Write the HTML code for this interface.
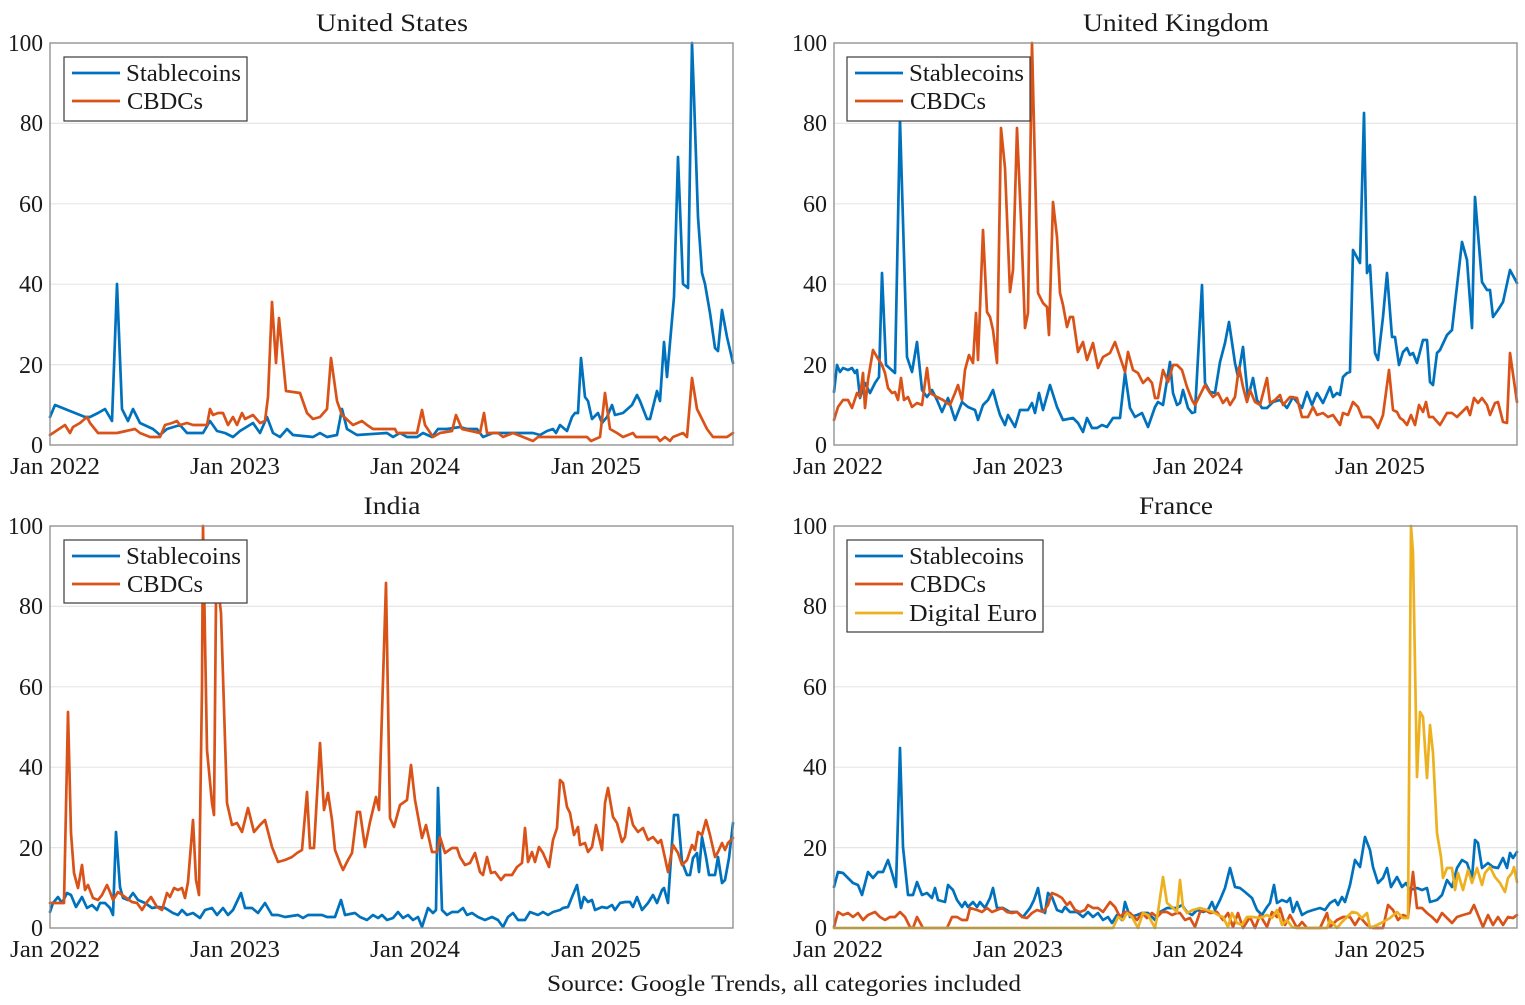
<!DOCTYPE html>
<html><head><meta charset="utf-8"><style>
html,body{margin:0;padding:0;background:#fff;}
svg{display:block;}
text{font-family:"Liberation Serif",serif;fill:#1a1a1a;}
.t{font-size:25px;}
.tk{font-size:24px;}
.lg{font-size:24px;}
.grid{stroke:#e6e6e6;stroke-width:1.2;}
.frame{fill:none;stroke:#8a8a8a;stroke-width:1.3;}
.s{fill:none;stroke-width:2.7;stroke-linejoin:round;stroke-linecap:round;}
.b{stroke:#0072BD;}
.o{stroke:#D95319;}
.y{stroke:#EDB120;}
.leg{fill:#fff;stroke:#3a3a3a;stroke-width:1.2;}
</style></head><body>
<svg width="1525" height="1005" viewBox="0 0 1525 1005" xmlns="http://www.w3.org/2000/svg">
<rect width="1525" height="1005" fill="#fff"/>

<!-- Titles -->
<text class="t" x="392" y="31" text-anchor="middle" textLength="152" lengthAdjust="spacingAndGlyphs">United States</text>
<text class="t" x="1176" y="31" text-anchor="middle" textLength="186" lengthAdjust="spacingAndGlyphs">United Kingdom</text>
<text class="t" x="392" y="514" text-anchor="middle" textLength="57" lengthAdjust="spacingAndGlyphs">India</text>
<text class="t" x="1176" y="514" text-anchor="middle" textLength="74" lengthAdjust="spacingAndGlyphs">France</text>

<!-- Grids -->
<g class="grid">
<line x1="50" x2="733" y1="123.4" y2="123.4"/><line x1="50" x2="733" y1="203.8" y2="203.8"/><line x1="50" x2="733" y1="284.2" y2="284.2"/><line x1="50" x2="733" y1="364.6" y2="364.6"/>
<line x1="834" x2="1517" y1="123.4" y2="123.4"/><line x1="834" x2="1517" y1="203.8" y2="203.8"/><line x1="834" x2="1517" y1="284.2" y2="284.2"/><line x1="834" x2="1517" y1="364.6" y2="364.6"/>
<line x1="50" x2="733" y1="606.4" y2="606.4"/><line x1="50" x2="733" y1="686.8" y2="686.8"/><line x1="50" x2="733" y1="767.2" y2="767.2"/><line x1="50" x2="733" y1="847.6" y2="847.6"/>
<line x1="834" x2="1517" y1="606.4" y2="606.4"/><line x1="834" x2="1517" y1="686.8" y2="686.8"/><line x1="834" x2="1517" y1="767.2" y2="767.2"/><line x1="834" x2="1517" y1="847.6" y2="847.6"/>
</g>

<!-- Y tick labels -->
<g class="tk" text-anchor="end">
<text x="43" y="51" textLength="35" lengthAdjust="spacingAndGlyphs">100</text>
<text x="43" y="131" textLength="23" lengthAdjust="spacingAndGlyphs">80</text>
<text x="43" y="212">60</text>
<text x="43" y="292">40</text>
<text x="43" y="373">20</text>
<text x="43" y="453">0</text>
<text x="827" y="51" textLength="35" lengthAdjust="spacingAndGlyphs">100</text>
<text x="827" y="131">80</text>
<text x="827" y="212">60</text>
<text x="827" y="292">40</text>
<text x="827" y="373">20</text>
<text x="827" y="453">0</text>
<text x="43" y="534" textLength="35" lengthAdjust="spacingAndGlyphs">100</text>
<text x="43" y="614">80</text>
<text x="43" y="695">60</text>
<text x="43" y="775">40</text>
<text x="43" y="856">20</text>
<text x="43" y="936">0</text>
<text x="827" y="534" textLength="35" lengthAdjust="spacingAndGlyphs">100</text>
<text x="827" y="614">80</text>
<text x="827" y="695">60</text>
<text x="827" y="775">40</text>
<text x="827" y="856">20</text>
<text x="827" y="936">0</text>
</g>

<!-- X tick labels -->
<g class="tk" text-anchor="middle">
<text x="55" y="474" textLength="90" lengthAdjust="spacingAndGlyphs">Jan 2022</text>
<text x="235" y="474" textLength="90" lengthAdjust="spacingAndGlyphs">Jan 2023</text>
<text x="415" y="474" textLength="90" lengthAdjust="spacingAndGlyphs">Jan 2024</text>
<text x="596" y="474" textLength="90" lengthAdjust="spacingAndGlyphs">Jan 2025</text>
<text x="838" y="474" textLength="90" lengthAdjust="spacingAndGlyphs">Jan 2022</text>
<text x="1018" y="474" textLength="90" lengthAdjust="spacingAndGlyphs">Jan 2023</text>
<text x="1198" y="474" textLength="90" lengthAdjust="spacingAndGlyphs">Jan 2024</text>
<text x="1380" y="474" textLength="90" lengthAdjust="spacingAndGlyphs">Jan 2025</text>
<text x="55" y="957" textLength="90" lengthAdjust="spacingAndGlyphs">Jan 2022</text>
<text x="235" y="957" textLength="90" lengthAdjust="spacingAndGlyphs">Jan 2023</text>
<text x="415" y="957" textLength="90" lengthAdjust="spacingAndGlyphs">Jan 2024</text>
<text x="596" y="957" textLength="90" lengthAdjust="spacingAndGlyphs">Jan 2025</text>
<text x="838" y="957" textLength="90" lengthAdjust="spacingAndGlyphs">Jan 2022</text>
<text x="1018" y="957" textLength="90" lengthAdjust="spacingAndGlyphs">Jan 2023</text>
<text x="1198" y="957" textLength="90" lengthAdjust="spacingAndGlyphs">Jan 2024</text>
<text x="1380" y="957" textLength="90" lengthAdjust="spacingAndGlyphs">Jan 2025</text>
</g>

<!-- US -->
<polyline class="s b" points="50,417 55,405 65,409 80,415 85,417 90,417 98,413 105,409 112,421 117,284 122,409 128,421 133,409 140,423 153,429 160,435 167,429 180,425 187,433 203,433 210,421 217,431 225,433 233,437 240,431 253,423 260,433 267,417 273,433 280,437 287,429 293,435 313,437 320,433 327,437 337,435 342,409 347,429 357,435 387,433 393,437 400,433 407,437 417,437 423,433 432,437 438,429 447,429 460,427 467,429 477,429 483,437 493,433 533,433 540,435 547,431 553,429 556,433 560,425 567,431 572,417 575,413 578,413 581,358 585,397 588,401 592,419 598,413 602,423 607,417 612,405 615,415 623,413 632,405 637,395 640,401 647,419 650,419 657,391 660,401 664,342 667,377 674,297 678,157 683,284 688,288 692,43 694,97 698,217 702,273 705,284 710,313 715,348 718,351 722,310 727,337 733,363"/>
<polyline class="s o" points="50,435 65,425 70,433 73,427 80,423 87,417 90,423 98,433 117,433 135,429 140,433 150,437 160,437 165,425 172,423 177,421 180,425 187,423 193,425 207,425 210,409 213,415 218,413 223,413 228,425 233,417 237,425 242,413 245,419 253,415 260,423 265,421 268,397 272,302 276,363 279,318 286,391 300,393 307,413 313,419 320,417 327,409 331,358 337,401 342,415 353,425 362,421 367,425 373,429 395,429 397,433 417,433 422,410 425,425 433,437 440,433 452,431 456,415 462,429 480,433 484,413 487,433 498,433 503,437 513,433 523,437 533,441 538,437 587,437 591,441 600,437 605,393 610,429 617,433 623,437 633,433 636,437 657,437 660,441 665,437 670,441 673,437 683,433 687,437 692,378 697,409 707,429 713,437 727,437 733,433"/>

<!-- UK -->
<polyline class="s b" points="834,392 837,365 840,372 843,368 848,370 852,368 855,373 857,370 860,398 865,383 870,393 875,383 879,377 882,273 886,365 895,373 900,120 907,357 912,372 917,342 922,390 927,397 932,390 937,400 942,412 948,398 955,420 962,402 968,407 975,410 978,420 983,405 988,400 993,390 997,405 1000,415 1005,425 1008,415 1015,427 1020,410 1028,410 1032,403 1035,413 1039,393 1043,410 1050,385 1057,407 1063,420 1073,418 1078,423 1083,432 1087,418 1092,428 1097,428 1102,425 1107,427 1113,418 1120,418 1125,373 1130,408 1135,417 1142,413 1148,427 1155,407 1158,402 1163,405 1170,362 1173,393 1177,405 1180,403 1183,390 1188,408 1192,413 1195,412 1202,285 1205,383 1210,392 1215,393 1220,362 1225,343 1229,322 1235,363 1238,377 1243,347 1248,398 1253,378 1257,400 1262,408 1267,408 1273,402 1280,400 1287,408 1293,397 1302,408 1307,392 1312,405 1317,393 1323,403 1330,387 1333,397 1337,393 1340,395 1343,377 1347,373 1350,372 1353,250 1360,263 1364,113 1367,273 1370,265 1375,353 1378,360 1383,317 1387,273 1392,337 1395,337 1399,365 1403,352 1407,348 1410,355 1413,353 1417,363 1423,340 1427,340 1430,382 1433,385 1437,353 1440,350 1447,335 1452,330 1462,242 1467,260 1472,328 1475,197 1482,282 1487,290 1490,290 1493,317 1498,310 1503,302 1510,270 1517,283"/>
<polyline class="s o" points="834,420 838,407 843,400 848,400 852,408 857,393 860,397 863,373 865,408 868,380 873,350 877,357 882,365 885,373 888,388 892,393 895,392 898,400 901,378 904,400 908,397 912,407 917,403 922,405 927,368 930,393 937,397 943,400 950,405 955,393 958,385 962,400 965,370 969,355 973,363 976,313 978,360 983,230 987,312 990,317 993,330 997,363 1001,128 1005,168 1010,292 1013,270 1017,128 1021,220 1025,328 1028,313 1032,43 1038,293 1043,303 1047,307 1049,335 1053,202 1057,237 1060,293 1063,305 1067,327 1070,317 1073,317 1078,352 1083,342 1087,360 1093,343 1098,368 1103,357 1110,353 1115,342 1120,357 1125,372 1128,352 1133,370 1138,373 1143,383 1148,378 1152,383 1155,398 1158,398 1163,370 1168,382 1173,365 1177,365 1182,370 1187,387 1192,400 1195,405 1200,395 1205,385 1210,393 1213,397 1218,393 1223,403 1227,398 1230,405 1235,397 1239,367 1243,387 1247,402 1250,390 1255,402 1260,405 1267,378 1270,403 1275,400 1280,395 1283,405 1290,397 1297,398 1302,417 1308,417 1313,407 1317,415 1323,413 1328,417 1333,415 1340,425 1343,413 1348,415 1353,402 1358,407 1362,417 1370,417 1373,420 1378,428 1383,415 1389,370 1393,410 1397,412 1400,418 1403,420 1407,425 1411,415 1415,425 1419,405 1423,412 1426,402 1429,417 1433,417 1440,425 1447,413 1452,413 1457,417 1462,412 1467,407 1470,415 1474,398 1478,403 1482,398 1487,405 1490,415 1495,403 1498,402 1503,422 1507,423 1510,353 1517,402"/>

<!-- India -->
<polyline class="s b" points="50,912 53,903 58,897 62,903 67,893 71,895 76,907 82,897 87,908 92,905 97,910 100,903 105,903 110,908 113,915 116,832 120,887 123,898 128,900 133,893 138,900 145,903 152,908 158,907 165,908 173,913 178,915 182,910 187,915 193,913 200,918 205,910 212,908 217,915 223,908 228,915 233,910 241,893 245,908 252,908 258,913 265,903 272,915 278,915 285,917 298,915 303,918 308,915 322,915 327,917 335,917 341,900 345,915 355,913 360,917 367,920 373,915 378,918 382,915 387,920 393,918 398,912 403,918 408,915 413,920 418,917 422,927 428,908 433,913 436,910 438,788 442,910 447,915 452,912 458,912 463,908 467,915 472,913 478,917 485,920 492,917 498,920 503,927 508,917 513,913 518,920 525,920 530,912 538,915 543,912 548,915 553,912 560,910 563,908 568,907 572,897 577,885 581,908 584,897 588,902 592,900 595,910 602,907 607,908 612,905 615,910 620,903 625,902 630,902 633,907 637,897 642,910 648,903 653,895 657,903 662,890 664,888 668,903 672,843 674,815 678,815 682,862 687,875 690,875 693,858 697,853 699,872 702,837 706,857 709,875 715,875 718,857 722,883 725,880 729,858 733,823"/>
<polyline class="s o" points="50,903 55,903 62,903 64,903 68,712 71,833 74,873 78,888 82,865 85,890 88,885 93,898 98,900 102,895 107,885 110,892 113,900 118,892 125,897 132,902 137,903 142,910 147,902 151,897 157,907 162,910 167,893 170,897 174,888 178,890 182,888 185,898 188,882 193,820 196,880 199,895 202,687 203,526 207,750 212,803 214,815 216,600 218,587 221,613 227,803 232,825 237,823 242,832 248,808 254,832 260,825 265,820 272,847 278,862 285,860 292,857 297,853 302,850 307,792 310,848 314,848 320,743 324,810 328,793 332,820 335,850 340,863 343,870 348,860 352,853 357,812 360,812 365,847 370,822 376,797 379,810 386,583 390,818 394,827 400,805 407,800 411,765 415,800 422,838 426,825 432,852 437,852 440,837 445,853 452,848 457,848 460,857 465,865 470,863 475,853 480,872 483,875 487,857 491,873 495,872 501,880 505,875 512,875 517,867 522,863 525,828 528,862 532,852 535,862 539,847 543,853 549,867 553,840 557,828 560,780 563,783 567,807 570,813 574,835 578,827 580,845 585,843 588,852 592,847 596,825 599,837 602,850 605,803 608,788 613,817 617,823 622,842 625,837 629,808 633,825 638,832 643,828 648,840 653,837 658,843 661,840 665,858 668,872 673,845 678,853 682,865 687,860 692,845 695,850 698,832 702,835 706,820 710,835 715,857 718,852 722,843 725,850 728,843 733,838"/>

<!-- France -->
<polyline class="s b" points="834,887 838,872 843,873 848,878 853,883 858,885 862,895 868,872 873,878 878,872 883,872 888,860 892,873 896,887 900,748 903,847 908,895 913,895 917,882 922,895 927,893 932,898 935,888 938,900 945,902 948,885 953,890 957,900 962,907 965,902 968,907 973,902 977,907 980,902 985,908 990,898 993,888 997,908 1003,908 1010,912 1017,912 1023,917 1030,908 1034,900 1038,888 1042,910 1045,913 1048,893 1052,897 1057,910 1062,912 1065,907 1070,912 1077,912 1083,917 1088,912 1093,917 1098,913 1103,920 1108,917 1112,923 1117,915 1122,920 1125,902 1130,917 1137,915 1142,913 1148,913 1155,920 1160,912 1167,908 1173,908 1177,908 1182,905 1187,912 1192,915 1197,910 1203,912 1208,910 1212,902 1215,910 1220,900 1225,888 1230,868 1235,887 1240,888 1245,892 1252,898 1257,910 1262,915 1267,907 1270,903 1274,885 1277,903 1282,900 1287,902 1290,898 1293,912 1297,902 1302,915 1307,912 1313,910 1320,908 1325,910 1330,903 1335,900 1338,905 1342,897 1345,902 1350,885 1355,860 1360,867 1365,837 1370,850 1373,867 1378,883 1383,878 1387,868 1391,887 1397,877 1402,887 1406,883 1410,890 1417,888 1422,890 1427,888 1430,902 1437,900 1442,895 1447,880 1452,887 1457,868 1462,860 1467,863 1472,878 1475,840 1478,843 1482,868 1488,863 1493,867 1498,868 1503,858 1507,868 1510,853 1513,858 1517,852"/>
<polyline class="s o" points="834,927 838,912 843,915 848,913 853,917 858,913 863,920 868,915 875,912 880,917 885,920 890,917 895,917 900,912 905,917 910,927 913,928 917,917 923,928 947,928 952,917 957,917 962,920 967,920 970,908 977,910 982,912 987,908 992,912 997,910 1002,908 1007,912 1012,913 1017,912 1022,917 1027,918 1032,913 1037,910 1043,912 1048,905 1052,893 1057,895 1062,898 1067,905 1070,902 1075,910 1080,912 1085,910 1088,905 1093,908 1098,908 1103,912 1110,902 1115,907 1120,917 1125,912 1130,913 1137,920 1142,913 1147,918 1152,913 1157,917 1162,912 1167,912 1172,915 1177,913 1180,913 1185,920 1190,918 1195,927 1200,912 1205,910 1210,913 1217,912 1223,920 1228,913 1233,927 1238,913 1243,928 1250,917 1255,928 1260,915 1267,927 1272,912 1277,917 1280,908 1285,925 1290,915 1297,928 1302,922 1307,928 1320,928 1327,913 1330,927 1337,920 1343,917 1350,917 1355,925 1360,917 1367,925 1373,928 1383,928 1388,905 1393,910 1398,920 1403,915 1408,917 1413,872 1417,908 1422,908 1427,913 1432,917 1437,922 1442,913 1447,918 1452,923 1457,917 1463,915 1470,913 1474,905 1478,915 1483,927 1488,915 1493,925 1498,917 1503,925 1508,917 1513,918 1517,915"/>
<polyline class="s y" points="834,928 1113,928 1118,917 1123,920 1127,913 1132,917 1138,928 1143,913 1148,915 1155,928 1158,912 1163,877 1167,903 1173,908 1177,912 1180,880 1183,907 1187,913 1193,910 1200,908 1207,910 1213,912 1218,915 1223,917 1228,927 1232,913 1237,923 1242,925 1247,917 1253,917 1260,918 1267,915 1272,918 1277,910 1282,925 1287,920 1292,927 1297,928 1327,928 1330,920 1337,928 1342,922 1347,917 1352,912 1357,913 1362,918 1367,913 1370,928 1377,925 1383,922 1390,918 1397,912 1403,918 1408,918 1411,526 1413,553 1417,777 1420,712 1423,717 1427,778 1430,725 1433,753 1437,833 1441,857 1443,878 1447,868 1452,868 1455,890 1458,873 1463,890 1468,870 1472,883 1477,868 1482,885 1485,873 1490,867 1495,877 1500,883 1505,892 1508,878 1512,873 1514,867 1517,882"/>

<!-- Frames -->
<rect class="frame" x="50" y="43" width="683" height="402"/>
<rect class="frame" x="834" y="43" width="683" height="402"/>
<rect class="frame" x="50" y="526" width="683" height="402"/>
<rect class="frame" x="834" y="526" width="683" height="402"/>

<!-- Legends -->
<g>
<rect class="leg" x="64" y="57" width="183" height="64"/>
<line class="s b" x1="72" x2="120" y1="73" y2="73" style="stroke-linecap:butt"/>
<line class="s o" x1="72" x2="120" y1="101" y2="101" style="stroke-linecap:butt"/>
<text class="lg" x="126" y="81" textLength="115" lengthAdjust="spacingAndGlyphs">Stablecoins</text>
<text class="lg" x="127" y="109" textLength="76" lengthAdjust="spacingAndGlyphs">CBDCs</text>
</g>
<g>
<rect class="leg" x="847" y="57" width="183" height="64"/>
<line class="s b" x1="855" x2="903" y1="73" y2="73" style="stroke-linecap:butt"/>
<line class="s o" x1="855" x2="903" y1="101" y2="101" style="stroke-linecap:butt"/>
<text class="lg" x="909" y="81" textLength="115" lengthAdjust="spacingAndGlyphs">Stablecoins</text>
<text class="lg" x="910" y="109" textLength="76" lengthAdjust="spacingAndGlyphs">CBDCs</text>
</g>
<g>
<rect class="leg" x="64" y="540" width="183" height="63"/>
<line class="s b" x1="72" x2="120" y1="556" y2="556" style="stroke-linecap:butt"/>
<line class="s o" x1="72" x2="120" y1="584" y2="584" style="stroke-linecap:butt"/>
<text class="lg" x="126" y="564" textLength="115" lengthAdjust="spacingAndGlyphs">Stablecoins</text>
<text class="lg" x="127" y="592" textLength="76" lengthAdjust="spacingAndGlyphs">CBDCs</text>
</g>
<g>
<rect class="leg" x="847" y="540" width="196" height="92"/>
<line class="s b" x1="855" x2="903" y1="556" y2="556" style="stroke-linecap:butt"/>
<line class="s o" x1="855" x2="903" y1="584" y2="584" style="stroke-linecap:butt"/>
<line class="s y" x1="855" x2="903" y1="613" y2="613" style="stroke-linecap:butt"/>
<text class="lg" x="909" y="564" textLength="115" lengthAdjust="spacingAndGlyphs">Stablecoins</text>
<text class="lg" x="910" y="592" textLength="76" lengthAdjust="spacingAndGlyphs">CBDCs</text>
<text class="lg" x="909" y="621" textLength="128" lengthAdjust="spacingAndGlyphs">Digital Euro</text>
</g>

<!-- Source -->
<text x="784" y="991" text-anchor="middle" style="font-size:23px" textLength="474" lengthAdjust="spacingAndGlyphs">Source: Google Trends, all categories included</text>
</svg>
</body></html>
